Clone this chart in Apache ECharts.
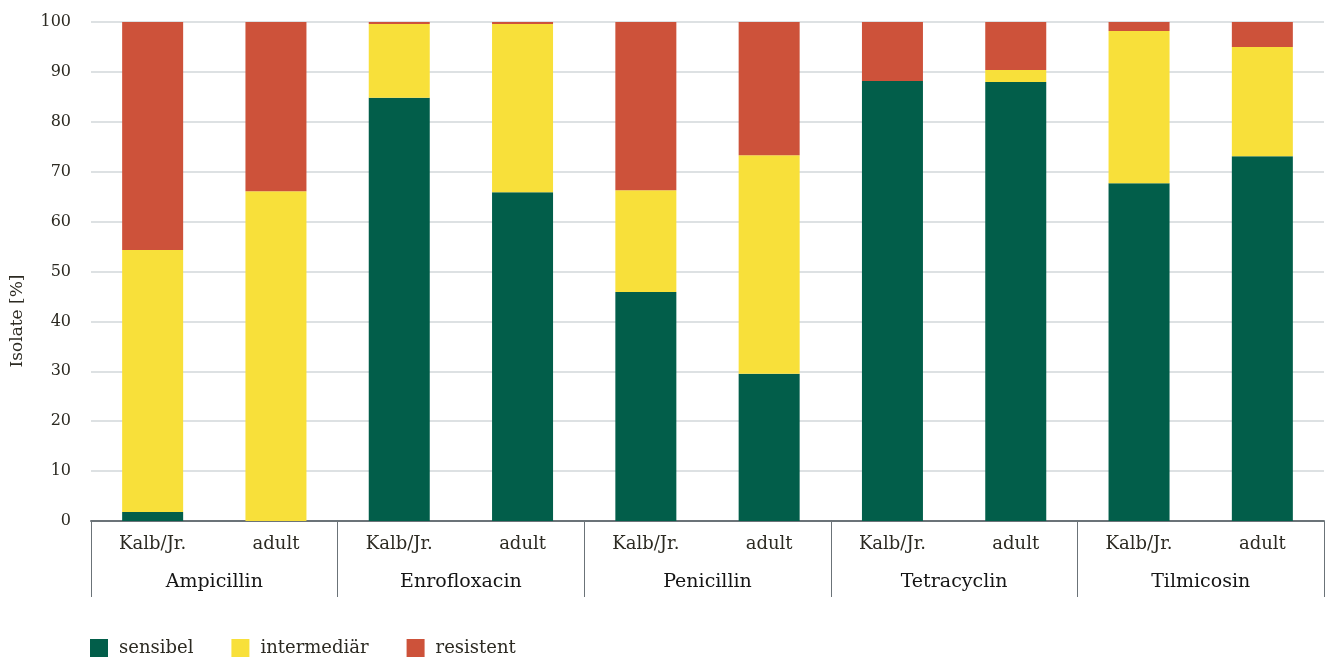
<!DOCTYPE html>
<html>
<head>
<meta charset="utf-8">
<script src="https://cdn.jsdelivr.net/npm/echarts@6/dist/echarts.min.js"></script>
<style>html,body{margin:0;padding:0;background:#fff}#c{width:1330px;height:662px}</style>
</head>
<body>
<div id="c"></div>
<script>
var subCategories = ['Kalb/Jr.', 'adult', 'Kalb/Jr.', 'adult', 'Kalb/Jr.', 'adult', 'Kalb/Jr.', 'adult', 'Kalb/Jr.', 'adult'];
var groups = ['Ampicillin', 'Enrofloxacin', 'Penicillin', 'Tetracyclin', 'Tilmicosin'];
var sensibel     = [1.8, 0.0, 84.8, 65.9, 45.9, 29.5, 88.2, 88.0, 67.7, 73.1];
var intermediaer = [52.5, 66.1, 14.8, 33.7, 20.4, 43.8, 0.0, 2.4, 30.5, 21.9];
var resistent    = [45.7, 33.9, 0.4, 0.4, 33.7, 26.7, 11.8, 9.6, 1.8, 5.0];
var seriesNames = ['sensibel', 'intermediär', 'resistent'];
var yAxisTitle = 'Isolate [%]';
var colors = ['#025e4a', '#f8e03a', '#cd523a'];

var font = 'DejaVu Serif';
var textCol = '#2c2a22';
var chart = echarts.init(document.getElementById('c'), null, {renderer: 'canvas'});
var dataSets = [sensibel, intermediaer, resistent];
chart.setOption({
  animation: false,
  color: colors,
  grid: {left: 91, right: 6, top: 22, bottom: 141},
  legend: {
    left: 85, top: 634,
    icon: 'rect', itemWidth: 18, itemHeight: 18, itemGap: 38,
    textStyle: {fontFamily: font, fontSize: 18, color: textCol, padding: [0, 0, 0, 6]},
    data: seriesNames
  },
  graphic: [{
    type: 'text', x: 18, y: 321, rotation: Math.PI / 2,
    style: {text: yAxisTitle, fontFamily: font, fontSize: 17, fill: textCol, align: 'center', verticalAlign: 'middle'}
  }],
  xAxis: [{
    type: 'category', data: subCategories, position: 'bottom',
    axisLine: {show: true, lineStyle: {color: '#6b7378', width: 2}},
    axisTick: {show: false},
    axisLabel: {interval: 0, margin: 14, fontFamily: font, fontSize: 18, color: textCol}
  }, {
    type: 'category', data: groups, position: 'bottom',
    axisLine: {show: false},
    axisTick: {show: true, length: 76, interval: 0, lineStyle: {color: '#6b7378', width: 1}},
    axisLabel: {interval: 0, margin: 52, fontFamily: font, fontSize: 19, color: '#151515'}
  }],
  yAxis: {
    type: 'value', min: 0, max: 100, interval: 10,
    axisLine: {show: false}, axisTick: {show: false},
    axisLabel: {margin: 20, fontFamily: font, fontSize: 16, color: textCol},
    splitLine: {lineStyle: {color: '#dde1e3', width: 2}}
  },
  series: seriesNames.map(function (n, i) {
    return {
      name: n, type: 'bar', stack: 'total', xAxisIndex: 0,
      barWidth: 61, data: dataSets[i],
      itemStyle: {color: colors[i]}
    };
  })
});
</script>
</body>
</html>
